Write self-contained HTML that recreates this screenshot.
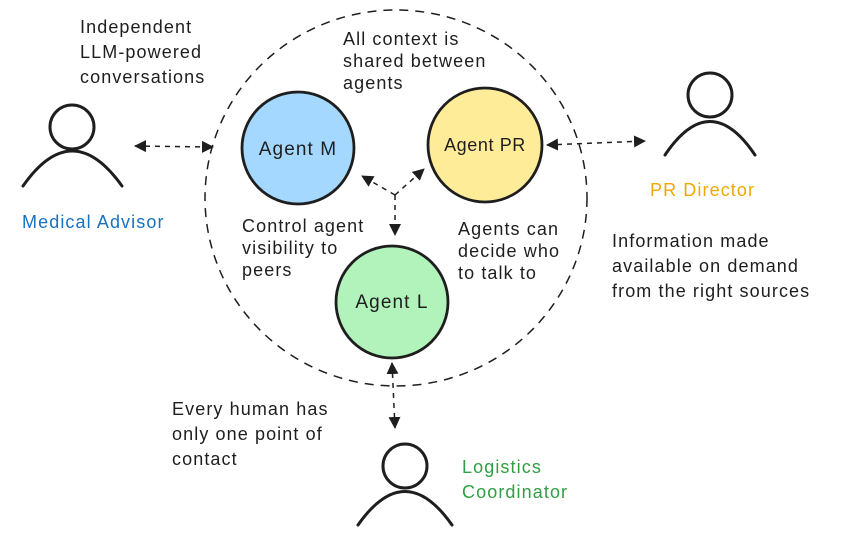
<!DOCTYPE html>
<html><head><meta charset="utf-8"><style>
html,body{margin:0;padding:0;background:#fff;}
svg{display:block}
text{font-family:"Liberation Sans",sans-serif;font-size:18px;letter-spacing:1.1px;fill:#1e1e1e}
</style></head><body>
<svg width="844" height="555" viewBox="0 0 844 555" xmlns="http://www.w3.org/2000/svg">
<defs>
<marker id="a" markerWidth="12" markerHeight="12" refX="11" refY="6" orient="auto" markerUnits="userSpaceOnUse"><path d="M0,0 L12,6 L0,12 z" fill="#1e1e1e"/></marker>
<marker id="b" markerWidth="12" markerHeight="12" refX="1" refY="6" orient="auto" markerUnits="userSpaceOnUse"><path d="M12,0 L0,6 L12,12 z" fill="#1e1e1e"/></marker>
</defs>
<ellipse cx="396" cy="198" rx="191" ry="188" fill="none" stroke="#1e1e1e" stroke-width="1.5" stroke-dasharray="9 7"/>
<circle cx="298" cy="148" r="56" fill="#a5d8ff" stroke="#1e1e1e" stroke-width="2.8"/>
<circle cx="485" cy="145" r="57" fill="#ffec99" stroke="#1e1e1e" stroke-width="2.8"/>
<circle cx="392" cy="302" r="56" fill="#b2f2bb" stroke="#1e1e1e" stroke-width="2.8"/>
<text x="298" y="155" text-anchor="middle" style="font-size:19px">Agent M</text>
<text x="485" y="151" text-anchor="middle" style="letter-spacing:0.6px">Agent PR</text>
<text x="392" y="308" text-anchor="middle" style="font-size:19px">Agent L</text>
<g stroke="#1e1e1e" stroke-width="1.5" fill="none" stroke-dasharray="5 5">
<path d="M395,195 L362,176" marker-end="url(#a)"/>
<path d="M395,195 L424,169" marker-end="url(#a)"/>
<path d="M395,195 L395,235" marker-end="url(#a)"/>
<path d="M135,146 L213,147" marker-start="url(#b)" marker-end="url(#a)"/>
<path d="M547,145 L645,141" marker-start="url(#b)" marker-end="url(#a)"/>
<path d="M392,363 L395,428" marker-start="url(#b)" marker-end="url(#a)"/>
</g>
<g stroke="#1e1e1e" stroke-width="3" fill="none" stroke-linecap="round">
<circle cx="72" cy="127" r="22"/>
<path d="M23,186 Q72,116 122,186"/>
<circle cx="710" cy="95" r="22"/>
<path d="M665,155 Q710,88 755,155"/>
<circle cx="405" cy="466" r="22"/>
<path d="M358,525 Q405,458 452,525"/>
</g>
<text x="80" y="33">Independent</text>
<text x="80" y="58">LLM-powered</text>
<text x="80" y="83">conversations</text>
<text x="343" y="45">All context is</text>
<text x="343" y="67">shared between</text>
<text x="343" y="89">agents</text>
<text x="242" y="232">Control agent</text>
<text x="242" y="254">visibility to</text>
<text x="242" y="276">peers</text>
<text x="458" y="235">Agents can</text>
<text x="458" y="257">decide who</text>
<text x="458" y="279">to talk to</text>
<text x="612" y="247">Information made</text>
<text x="612" y="272">available on demand</text>
<text x="612" y="297">from the right sources</text>
<text x="172" y="415">Every human has</text>
<text x="172" y="440">only one point of</text>
<text x="172" y="465">contact</text>
<text x="22" y="228" style="fill:#1971c2">Medical Advisor</text>
<text x="650" y="196" style="fill:#f0a800">PR Director</text>
<text x="462" y="473" style="fill:#2f9e44">Logistics</text>
<text x="462" y="498" style="fill:#2f9e44">Coordinator</text>
</svg>
</body></html>
